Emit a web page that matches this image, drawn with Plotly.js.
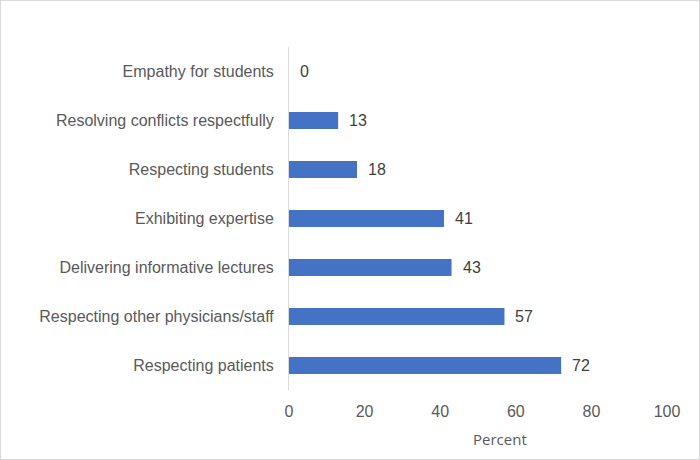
<!DOCTYPE html>
<html>
<head>
<meta charset="utf-8">
<script src="https://cdn.plot.ly/plotly-3.0.1.min.js"></script>
<style>
  html, body { margin: 0; padding: 0; background: #fff; }
  #chart { width: 700px; height: 460px; box-sizing: border-box; border: 1px solid #d9d9d9; }
</style>
</head>
<body>
<div id="chart"></div>
<script>
const categories = [
  "Empathy for students",
  "Resolving conflicts respectfully",
  "Respecting students",
  "Exhibiting expertise",
  "Delivering informative lectures",
  "Respecting other physicians/staff",
  "Respecting patients"
];
const percents = [0, 13, 18, 41, 43, 57, 72];
const xTicks = [0, 20, 40, 60, 80, 100];
const xAxisTitle = "Percent";

const trace = {
  type: "bar",
  orientation: "h",
  x: percents,
  y: categories,
  marker: { color: "#4472C4" },
  hoverinfo: "x+y"
};

const valueLabels = percents.map((v, i) => ({
  x: v,
  y: categories[i],
  xref: "x",
  yref: "y",
  text: String(v),
  showarrow: false,
  xanchor: "left",
  yanchor: "middle",
  xshift: 9,
  font: { family: "Liberation Sans, Arial, sans-serif", size: 16, color: "#404040" }
}));

valueLabels.push({
  x: 0.558,
  y: 0,
  xref: "paper",
  yref: "paper",
  yshift: -49,
  text: xAxisTitle,
  showarrow: false,
  xanchor: "center",
  yanchor: "middle",
  font: { family: "Open Sans, sans-serif", size: 15, color: "#595959" }
});

const layout = {
  width: 698,
  height: 458,
  margin: { l: 288, r: 32, t: 46, b: 69, pad: 0 },
  paper_bgcolor: "#ffffff",
  plot_bgcolor: "#ffffff",
  showlegend: false,
  bargap: 0.65,
  xaxis: {
    range: [0, 100],
    tickvals: xTicks,
    ticktext: xTicks.map(String),
    showgrid: false,
    zeroline: false,
    showline: false,
    ticks: "outside",
    ticklen: 7,
    tickcolor: "rgba(0,0,0,0)",
    tickfont: { family: "Liberation Sans, Arial, sans-serif", size: 16, color: "#595959" },
    fixedrange: true
  },
  yaxis: {
    type: "category",
    autorange: "reversed",
    showgrid: false,
    zeroline: false,
    showline: true,
    linecolor: "#d9d9d9",
    linewidth: 1,
    ticks: "outside",
    ticklen: 11,
    tickcolor: "rgba(0,0,0,0)",
    tickfont: { family: "Liberation Sans, Arial, sans-serif", size: 16, color: "#595959" },
    fixedrange: true
  },
  annotations: valueLabels
};

Plotly.newPlot("chart", [trace], layout, { displayModeBar: false, staticPlot: true });
</script>
</body>
</html>
